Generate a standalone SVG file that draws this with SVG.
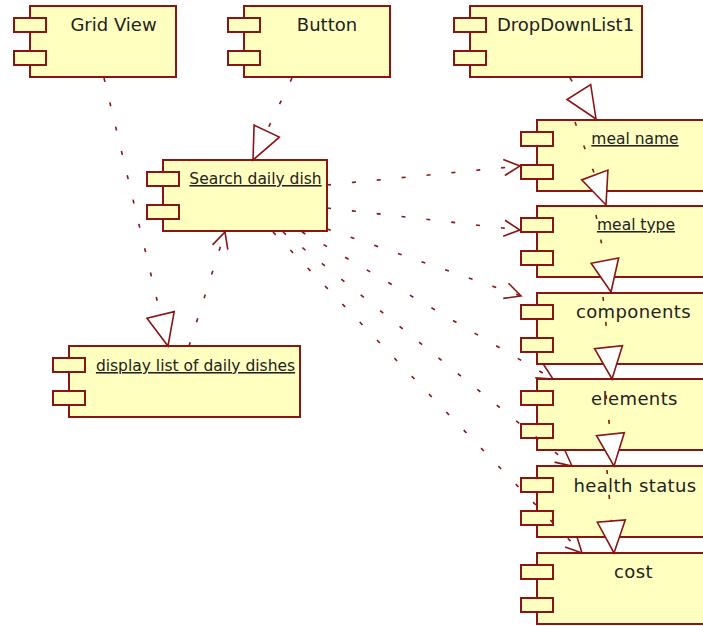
<svg xmlns="http://www.w3.org/2000/svg" width="703" height="626" viewBox="0 0 703 626">
<style>
.box{fill:#ffffc0;stroke:#8b1414;stroke-width:2}
.lbl{font-family:"DejaVu Sans",Verdana,sans-serif;font-size:18px;fill:#222;text-anchor:middle}
.ul{font-family:"DejaVu Sans",Verdana,sans-serif;font-size:15.5px;fill:#222;text-anchor:middle;text-decoration:underline}
.dep{fill:none;stroke:#8b1414;stroke-width:1.6;stroke-dasharray:4 21}
.mk{fill:none;stroke:#8b1414;stroke-width:1.6}
.tri{fill:#ffffff;stroke:#8b1414;stroke-width:1.6}
</style>
<defs>
<marker id="open" markerUnits="userSpaceOnUse" viewBox="-20 -10 22 20" markerWidth="22" markerHeight="20" refX="0" refY="0" orient="auto" style="overflow:visible">
<path class="mk" d="M-16,-8 L0,0 L-16,8"/>
</marker>
<marker id="real" markerUnits="userSpaceOnUse" viewBox="-34 -16 36 32" markerWidth="36" markerHeight="32" refX="0" refY="0" orient="auto" style="overflow:visible">
<path class="tri" d="M0,0 L-32,-14 L-32,14 Z"/>
</marker>
</defs>

<g id="grid-view">
<rect class="box" x="30" y="6" width="146" height="71"/>
<rect class="box" x="14" y="18" width="32" height="14"/>
<rect class="box" x="14" y="51" width="32" height="14"/>
<text class="lbl" x="113.5" y="31">Grid View</text>
</g>
<g id="button">
<rect class="box" x="244" y="6" width="146" height="71"/>
<rect class="box" x="228" y="18" width="32" height="14"/>
<rect class="box" x="228" y="51" width="32" height="14"/>
<text class="lbl" x="327" y="31">Button</text>
</g>
<g id="dropdownlist1">
<rect class="box" x="470" y="6" width="172" height="71"/>
<rect class="box" x="454" y="18" width="32" height="14"/>
<rect class="box" x="454" y="51" width="32" height="14"/>
<text class="lbl" x="565.5" y="31">DropDownList1</text>
</g>
<g id="search-daily-dish">
<rect class="box" x="163" y="160" width="164" height="71"/>
<rect class="box" x="147" y="172" width="32" height="14"/>
<rect class="box" x="147" y="205" width="32" height="14"/>
<text class="ul" x="255.5" y="184">Search daily dish</text>
</g>
<g id="display-list">
<rect class="box" x="69" y="346" width="231" height="71"/>
<rect class="box" x="53" y="358" width="32" height="14"/>
<rect class="box" x="53" y="391" width="32" height="14"/>
<text class="ul" x="195.5" y="371">display list of daily dishes</text>
</g>
<g id="meal-name">
<rect class="box" x="537" y="120" width="174" height="71"/>
<rect class="box" x="521" y="132" width="32" height="14"/>
<rect class="box" x="521" y="165" width="32" height="14"/>
<text class="ul" x="635" y="144">meal name</text>
</g>
<g id="meal-type">
<rect class="box" x="537" y="206" width="174" height="71"/>
<rect class="box" x="521" y="218" width="32" height="14"/>
<rect class="box" x="521" y="251" width="32" height="14"/>
<text class="ul" x="636" y="230">meal type</text>
</g>
<g id="components">
<rect class="box" x="537" y="293" width="174" height="71"/>
<rect class="box" x="521" y="305" width="32" height="14"/>
<rect class="box" x="521" y="338" width="32" height="14"/>
<text class="lbl" x="633.5" y="318" style="letter-spacing:0.4px">components</text>
</g>
<g id="elements">
<rect class="box" x="537" y="379" width="174" height="71"/>
<rect class="box" x="521" y="391" width="32" height="14"/>
<rect class="box" x="521" y="424" width="32" height="14"/>
<text class="lbl" x="634.5" y="405" style="letter-spacing:0.4px">elements</text>
</g>
<g id="health-status">
<rect class="box" x="537" y="466" width="174" height="71"/>
<rect class="box" x="521" y="478" width="32" height="14"/>
<rect class="box" x="521" y="511" width="32" height="14"/>
<text class="lbl" x="635" y="492" style="letter-spacing:0.4px">health status</text>
</g>
<g id="cost">
<rect class="box" x="537" y="553" width="174" height="71"/>
<rect class="box" x="521" y="565" width="32" height="14"/>
<rect class="box" x="521" y="598" width="32" height="14"/>
<text class="lbl" x="633.5" y="578" style="letter-spacing:0.4px">cost</text>
</g>

<g id="connectors">
<path class="dep" d="M104,78 L168,346" marker-end="url(#real)"/>
<path class="dep" d="M292,78 L253,160" marker-end="url(#real)"/>
<path class="dep" d="M189,346 L225,232" marker-end="url(#open)"/>
<path class="dep" d="M570,78 L596,119" marker-end="url(#real)"/>
<path class="dep" d="M575,122 L606,205" marker-end="url(#real)"/>
<path class="dep" d="M596,215 L611,292" marker-end="url(#real)"/>
<path class="dep" d="M603,297 L612,379" marker-end="url(#real)"/>
<path class="dep" d="M606,395 L614,466" marker-end="url(#real)"/>
<path class="dep" d="M607,470 L614,553" marker-end="url(#real)"/>
<path class="dep" d="M327,185 L520,166" marker-end="url(#open)"/>
<path class="dep" d="M327,208 L520,230" marker-end="url(#open)"/>
<path class="dep" d="M327,229 L521,296" marker-end="url(#open)"/>
<path class="dep" d="M302,232 L553,379" marker-end="url(#open)"/>
<path class="dep" d="M283,232 L572,466" marker-end="url(#open)"/>
<path class="dep" d="M273,232 L582,553" marker-end="url(#open)"/>
</g>
</svg>
